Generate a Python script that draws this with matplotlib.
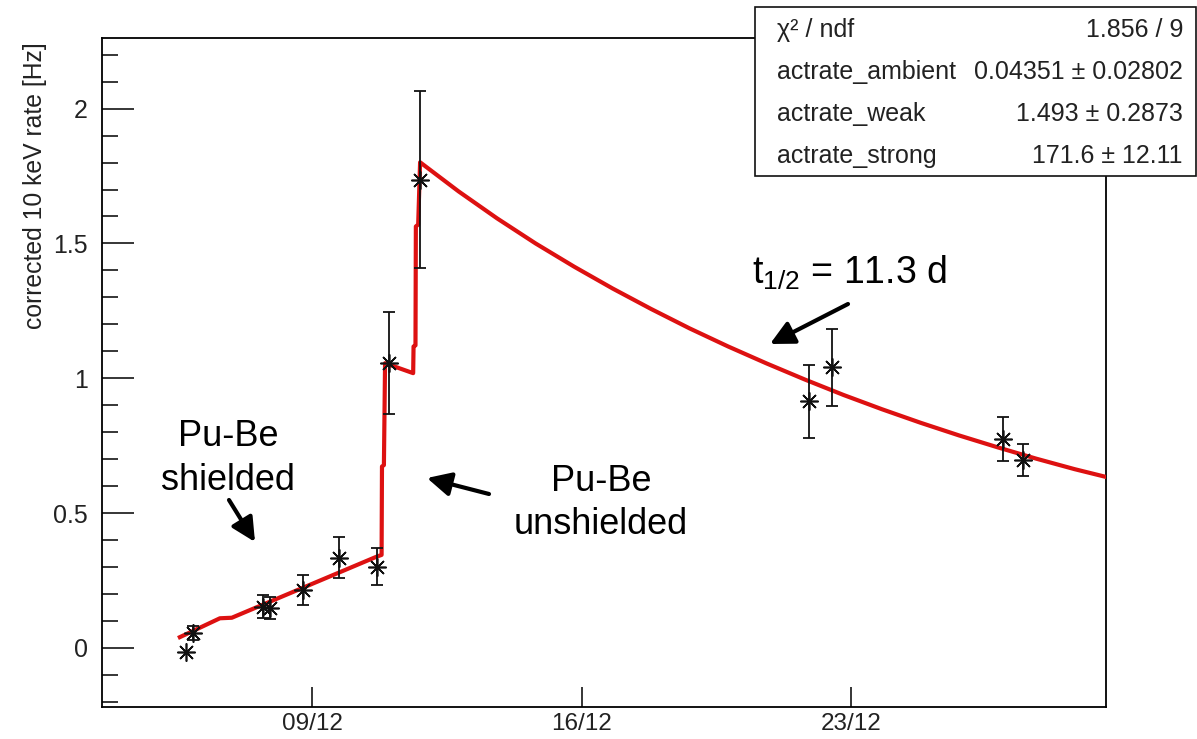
import numpy as np
import matplotlib
matplotlib.use("Agg")
import matplotlib.pyplot as plt
from matplotlib.ticker import MultipleLocator, FixedLocator, FuncFormatter
from matplotlib.patches import Rectangle

plt.rcParams['font.family'] = ['Liberation Sans', 'DejaVu Sans']
plt.rcParams['mathtext.fontset'] = 'custom'
plt.rcParams['mathtext.rm'] = 'Liberation Sans'
plt.rcParams['mathtext.it'] = 'Liberation Sans'

# Measured rates (day of December, corrected 10 keV rate in Hz, error)
meas_day = [5.72, 5.91, 7.73, 7.90, 8.75, 9.70, 10.69, 11.00, 11.80, 21.90, 22.49, 26.95, 27.47]
meas_rate = [-0.015, 0.055, 0.153, 0.147, 0.215, 0.335, 0.302, 1.056, 1.737, 0.914, 1.040, 0.775, 0.698]
meas_err = [np.nan, 0.025, 0.043, 0.041, 0.057, 0.075, 0.070, 0.188, 0.329, 0.136, 0.142, 0.083, 0.059]

# Fitted activation curve
fit_day = [5.56, 6.60, 6.91, 10.68, 10.80, 10.81, 10.86, 10.89, 11.62, 11.63, 11.68, 11.69,
           11.75, 11.80, 12.80, 13.80, 14.80, 15.80, 16.80, 17.80, 18.80, 19.80, 20.80,
           21.80, 22.80, 23.80, 24.80, 25.80, 26.80, 27.80, 28.80, 29.62]
fit_rate = [0.040, 0.110, 0.112, 0.339, 0.345, 0.673, 0.678, 1.056, 1.019, 1.118, 1.122, 1.563,
            1.570, 1.801, 1.693, 1.593, 1.500, 1.414, 1.333, 1.257, 1.185, 1.118, 1.055,
            0.995, 0.938, 0.885, 0.835, 0.788, 0.744, 0.702, 0.663, 0.634]

xtick_days = [9, 16, 23]
xtick_labels = ["09/12", "16/12", "23/12"]

stat_names = ["χ² / ndf", "actrate_ambient", "actrate_weak", "actrate_strong"]
stat_values = ["1.856 / 9", "0.04351 ± 0.02802", "1.493 ± 0.2873", "171.6 ± 12.11"]

W, H = 1197, 739
fig = plt.figure(figsize=(W / 100, H / 100), dpi=100)
ax = fig.add_axes([102 / W, 1 - 707 / H, (1106 - 102) / W, (707 - 37.7) / H])

def fpx(x, y):
    return (x, H - y)

ax.set_xlim(3.538, 29.615)
ax.set_ylim(-0.219, 2.263)

ax.plot(fit_day, fit_rate, color='#dd1111', lw=3.0, solid_joinstyle='round', zorder=3)
ax.errorbar(meas_day, meas_rate, yerr=meas_err, fmt='none', ecolor='#111111',
            elinewidth=1.3, capsize=4, capthick=1.3, zorder=4)
ax.plot(meas_day, meas_rate, linestyle='none', marker=(8, 2, 0), markersize=13,
        markeredgewidth=1.2, color='#111111', zorder=5)

ax.yaxis.set_major_locator(MultipleLocator(0.5))
ax.yaxis.set_minor_locator(MultipleLocator(0.1))
ax.yaxis.set_major_formatter(FuncFormatter(lambda v, p: f"{v:g}"))
ax.xaxis.set_major_locator(FixedLocator(xtick_days))
ax.set_xticklabels(xtick_labels)
ax.tick_params(axis='y', which='major', direction='in', length=23, width=1.1,
               labelsize=18, pad=10, labelcolor='#222222')
ax.tick_params(axis='y', which='minor', direction='in', length=11.5, width=1.1)
ax.tick_params(axis='x', which='major', direction='in', length=14.5, width=1.1,
               labelsize=17.5, pad=4, labelcolor='#222222')
for s in ax.spines.values():
    s.set_linewidth(1.3)

fig.text(35 / W, 1 - 42 / H, "corrected 10 keV rate [Hz]", rotation=90, ha='center',
         va='top', fontsize=17.8, color='#222222')

# Fit statistics box
box_l, box_r, box_t, box_b = 755, 1196, 7, 176
fig.patches.append(Rectangle((box_l / W, 1 - box_b / H), (box_r - box_l) / W,
                             (box_b - box_t) / H, transform=fig.transFigure,
                             facecolor='white', edgecolor='#111111', lw=1.2, zorder=5))
row_h = (box_b - box_t) / len(stat_names)
for i, (name, val) in enumerate(zip(stat_names, stat_values)):
    yc = box_t + row_h * (i + 0.5) + 1.5
    fig.text(777 / W, 1 - yc / H, name, ha='left', va='center', fontsize=18,
             color='#222222', zorder=6)
    fig.text(1183 / W, 1 - yc / H, val, ha='right', va='center', fontsize=18,
             color='#222222', zorder=6)

# Annotations
fig.text(228 / W, 1 - 446 / H, "Pu-Be", ha='center', va='baseline', fontsize=26)
fig.text(228 / W, 1 - 490 / H, "shielded", ha='center', va='baseline', fontsize=26)
fig.text(601 / W, 1 - 491 / H, "Pu-Be", ha='center', va='baseline', fontsize=26)
fig.text(601 / W, 1 - 534 / H, "unshielded", ha='center', va='baseline', fontsize=26)
fig.text(752 / W, 1 - 284 / H, r"$\mathrm{t}_{\mathrm{1/2}}$ = 11.3 d", ha='left',
         va='baseline', fontsize=27)

arrow_kw = dict(arrowstyle='-|>', color='black', lw=3, mutation_scale=36,
                shrinkA=0, shrinkB=0)
for tail, tip in [((229, 500), (255, 542)), ((489, 494), (427, 478)),
                  ((848, 304), (770, 344))]:
    ax.annotate("", xy=fpx(*tip), xycoords='figure pixels', xytext=fpx(*tail),
                textcoords='figure pixels', arrowprops=arrow_kw)

fig.savefig("out.png", dpi=100)
